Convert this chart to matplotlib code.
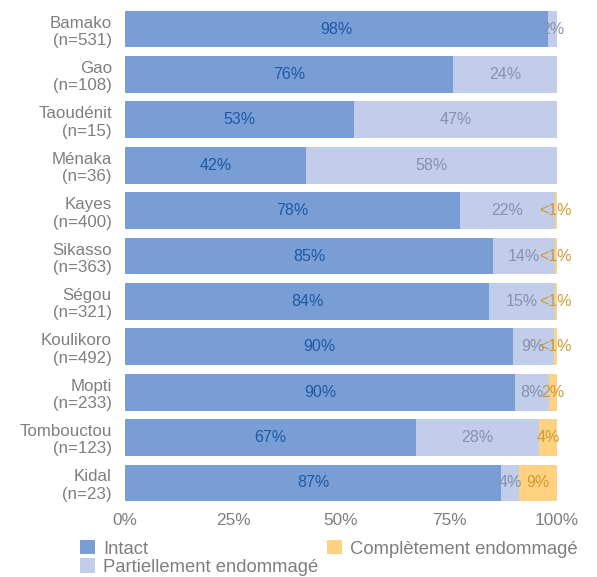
import matplotlib
matplotlib.use("Agg")
import matplotlib.pyplot as plt
import numpy as np

plt.rcParams['font.family'] = ['Liberation Sans', 'DejaVu Sans']

categories = ["Bamako\n(n=531)", "Gao\n(n=108)", "Taoudénit\n(n=15)", "Ménaka\n(n=36)",
              "Kayes\n(n=400)", "Sikasso\n(n=363)", "Ségou\n(n=321)", "Koulikoro\n(n=492)",
              "Mopti\n(n=233)", "Tombouctou\n(n=123)", "Kidal\n(n=23)"]
intact = [98.0, 76.0, 53.0, 42.0, 77.6, 85.2, 84.3, 89.8, 90.3, 67.4, 87.0]
partiel = [2.0, 24.0, 47.0, 58.0, 21.9, 14.3, 15.2, 9.4, 7.8, 28.4, 4.2]
complet = [0.0, 0.0, 0.0, 0.0, 0.5, 0.5, 0.5, 0.8, 1.9, 4.2, 8.8]
series_names = ["Intact", "Partiellement endommagé", "Complètement endommagé"]
xticks = [0, 25, 50, 75, 100]

colors = ["#789ED5", "#C2CDEA", "#FFD282"]
label_colors = ["#1F58A4", "#8891AE", "#CF9A32"]

fig = plt.figure(figsize=(5.97, 5.77), dpi=100)
ax = fig.add_axes([0.2094, 0.1236, 0.7236, 0.8654])

y = np.arange(len(categories))
data = [intact, partiel, complet]
left = np.zeros(len(categories))
handles = []
for i, vals in enumerate(data):
    vals = np.array(vals)
    b = ax.barh(y, vals, left=left, height=0.81, color=colors[i], label=series_names[i])
    handles.append(b)
    for j, v in enumerate(vals):
        if v <= 0:
            continue
        txt = "<1%" if v < 1 else f"{int(round(v))}%"
        ax.text(left[j] + v / 2, y[j], txt, ha="center", va="center",
                fontsize=11.5, color=label_colors[i])
    left = left + vals

ax.set_ylim(len(categories) - 0.5, -0.5)
ax.set_xlim(0, 100)
ax.set_yticks(y)
ax.set_yticklabels(categories, fontsize=12.2, color="#7F7F7F", linespacing=1.2)
ax.set_xticks(xticks)
ax.set_xticklabels([f"{t}%" for t in xticks], fontsize=12.4, color="#7F7F7F")
ax.tick_params(axis="y", length=0, pad=9.5)
ax.tick_params(axis="x", length=0, pad=5)
for s in ax.spines.values():
    s.set_visible(False)

fig.legend(handles=handles, labels=series_names, loc="upper left",
           bbox_to_anchor=(0.134, 0.064), ncol=2, frameon=False, fontsize=13.3,
           handlelength=0.81, handleheight=0.8, handletextpad=0.43,
           labelspacing=0.05, columnspacing=0.49, borderpad=0, borderaxespad=0,
           labelcolor="#7F7F7F")

fig.savefig("out.png", dpi=100)
